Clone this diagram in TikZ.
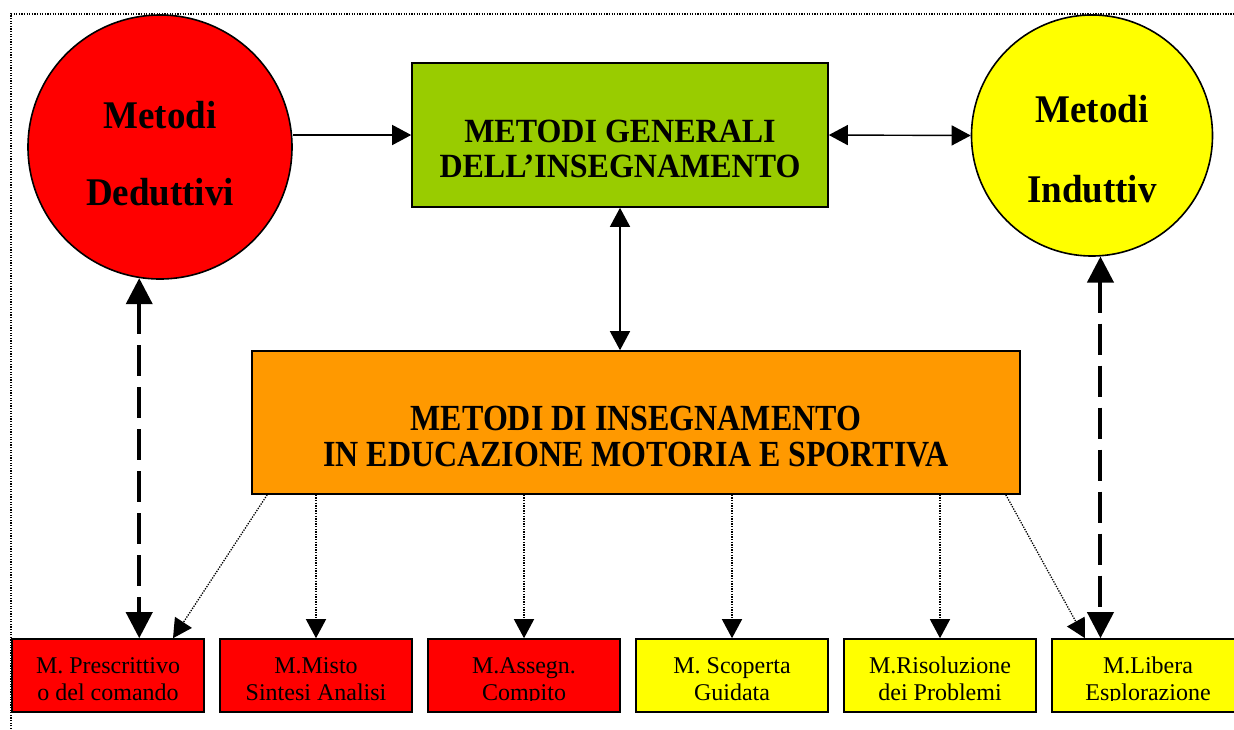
\documentclass[tikz,border=0pt]{standalone}
\usepackage{fontspec}
\setmainfont{Liberation Serif}
\usetikzlibrary{arrows.meta,calc}
\definecolor{cred}{HTML}{FF0000}
\definecolor{cyel}{HTML}{FFFF00}
\definecolor{cgreen}{HTML}{99CC00}
\definecolor{corange}{HTML}{FF9900}
\newcommand{\tallA}[1]{\scalebox{1}[1.06]{#1}}
\newcommand{\tallB}[1]{\scalebox{1}[1.15]{#1}}
\begin{document}
\begin{tikzpicture}[x=1pt,y=-1pt,
  bigtxt/.style={font=\fontsize{37}{40}\selectfont\bfseries, anchor=base, inner sep=0pt},
  midtxt/.style={font=\fontsize{32}{34}\selectfont\bfseries, anchor=base, inner sep=0pt},
  smalltxt/.style={font=\fontsize{24}{26}\selectfont, anchor=base, inner sep=0pt},
  boxstyle/.style={draw=black, line width=1.6pt, rectangle, inner sep=0pt},
  circstyle/.style={draw=black, line width=1.6pt, circle, inner sep=0pt},
  solidarr/.style={line width=1.4pt, -{Triangle[length=19pt,width=20pt]}},
  soliddbl/.style={line width=1.4pt, {Triangle[length=19pt,width=20pt]}-{Triangle[length=19pt,width=20pt]}},
  dashdbl/.style={line width=4pt, dash pattern=on 31pt off 11pt, {Triangle[length=26pt,width=26pt]}-{Triangle[length=26pt,width=26pt]}},
  dotarr/.style={line width=1.3pt, dash pattern=on 1.3pt off 1.3pt, -{Triangle[length=19pt,width=20pt]}},
  borderline/.style={line width=1.3pt, dash pattern=on 1.3pt off 1.3pt}
]
\useasboundingbox (0,0) rectangle (1234,729);
\draw[borderline] (11,729) -- (11,14) -- (1234,14);

% circles
\node[circstyle, fill=cred, minimum size=264pt] (red) at (160,147) {};
\node[circstyle, fill=cyel, minimum size=241pt] (yel) at (1092,135.5) {};
\node[bigtxt] (redA) at (160,128) {\tallA{Metodi}};
\node[bigtxt] (redB) at (160,205) {\tallA{Deduttivi}};
\node[bigtxt] (yelA) at (1092,122) {\tallA{Metodi}};
\node[bigtxt] (yelB) at (1092,202) {\tallA{Induttiv}};

% green box
\node[boxstyle, fill=cgreen, minimum width=416pt, minimum height=144pt] (green) at (620,135) {};
\node[midtxt] (greenA) at (620,142) {\tallA{METODI GENERALI}};
\node[midtxt] (greenB) at (620,177) {\tallA{DELL’INSEGNAMENTO}};

% orange box
\node[boxstyle, fill=corange, minimum width=768pt, minimum height=143pt] (orange) at (636,422.5) {};
\node[midtxt] (orA) at (636,430) {\tallB{METODI DI INSEGNAMENTO}};
\node[midtxt] (orB) at (636,466) {\tallB{IN EDUCAZIONE MOTORIA E SPORTIVA}};

% bottom boxes
\node[boxstyle, fill=cred, minimum width=192pt, minimum height=73pt] (b1) at (108,675.5) {};
\node[boxstyle, fill=cred, minimum width=192pt, minimum height=73pt] (b2) at (316,675.5) {};
\node[boxstyle, fill=cred, minimum width=192pt, minimum height=73pt] (b3) at (524,675.5) {};
\node[boxstyle, fill=cyel, minimum width=192pt, minimum height=73pt] (b4) at (732,675.5) {};
\node[boxstyle, fill=cyel, minimum width=192pt, minimum height=73pt] (b5) at (940,675.5) {};
\node[boxstyle, fill=cyel, minimum width=192pt, minimum height=73pt] (b6) at (1148,675.5) {};

\begin{scope}
\clip (0,600) rectangle (1234,700.5);
\node[smalltxt] (t1a) at (108,673) {M. Prescrittivo};
\node[smalltxt] (t1b) at (108,700) {o del comando};
\node[smalltxt] (t2a) at (316,673) {M.Misto};
\node[smalltxt] (t2b) at (316,700) {Sintesi Analisi};
\node[smalltxt] (t3a) at (524,673) {M.Assegn.};
\node[smalltxt] (t3b) at (524,700) {Compito};
\node[smalltxt] (t4a) at (732,673) {M. Scoperta};
\node[smalltxt] (t4b) at (732,700) {Guidata};
\node[smalltxt] (t5a) at (940,673) {M.Risoluzione};
\node[smalltxt] (t5b) at (940,700) {dei Problemi};
\node[smalltxt] (t6a) at (1148,673) {M.Libera};
\node[smalltxt] (t6b) at (1148,700) {Esplorazione};
\end{scope}

% connectors
\draw[solidarr] (red.east |- green.west) -- (green.west);
\draw[soliddbl] (green.east) -- (yel.west);
\draw[soliddbl] (green.south) -- (green.south |- orange.north);

\draw[dashdbl] (red.261) -- (red.261 |- b1.north);
\draw[dashdbl] (yel.274) -- (yel.274 |- b6.north);

\draw[dotarr] ($(orange.south west)+(16,0)$) -- ($(b1.north)+(65,0)$);
\draw[dotarr] (b2.north |- orange.south) -- (b2.north);
\draw[dotarr] (b3.north |- orange.south) -- (b3.north);
\draw[dotarr] (b4.north |- orange.south) -- (b4.north);
\draw[dotarr] (b5.north |- orange.south) -- (b5.north);
\draw[dotarr] ($(orange.south east)+(-15,0)$) -- ($(b6.north)+(-63,0)$);
\end{tikzpicture}
\end{document}
